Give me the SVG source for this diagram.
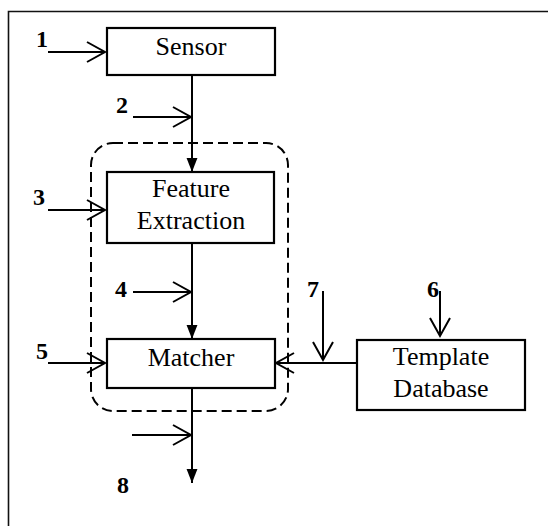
<svg xmlns="http://www.w3.org/2000/svg" width="548" height="526" viewBox="0 0 548 526">
<style>
.box{fill:#fff;stroke:#000;stroke-width:2.2}
.t{font-family:"Liberation Serif","Times New Roman",serif;font-size:26px;fill:#000;text-anchor:middle}
.n{font-family:"Liberation Serif","Times New Roman",serif;font-size:24px;font-weight:bold;fill:#000}
.ln{fill:none;stroke:#000;stroke-width:2}
.dash{fill:none;stroke:#000;stroke-width:2;stroke-dasharray:10 5}
</style>
<defs>
<marker id="fill" markerWidth="14" markerHeight="18" refX="18" refY="7" viewBox="0 0 18 14" orient="auto" markerUnits="userSpaceOnUse">
<path d="M0,0 L18,7 L0,14 Z" fill="#000"/>
</marker>
<marker id="open" markerWidth="22" markerHeight="24" refX="19" refY="11" viewBox="0 0 22 22" orient="auto" markerUnits="userSpaceOnUse">
<path d="M1,1 L19,11 L1,21" fill="none" stroke="#000" stroke-width="2"/>
</marker>
</defs>
<g id="frame">
<path d="M8.5,548 L8.5,11.5 L548,11.5" fill="none" stroke="#111" stroke-width="1.6"/>
</g>
<g id="group-dashed">
<rect class="dash" x="91" y="143" width="197" height="268" rx="22" ry="22"/>
</g>
<g id="connectors">
<line class="ln" x1="192" y1="75" x2="192" y2="172" marker-end="url(#fill)"/>
<line class="ln" x1="192" y1="243" x2="192" y2="339" marker-end="url(#fill)"/>
<line class="ln" x1="192" y1="388" x2="192" y2="483" marker-end="url(#fill)"/>
<line class="ln" x1="357" y1="363" x2="276" y2="363" marker-end="url(#open)"/>
<line class="ln" x1="48" y1="52" x2="105" y2="52" marker-end="url(#open)"/>
<line class="ln" x1="133" y1="117" x2="191" y2="117" marker-end="url(#open)"/>
<line class="ln" x1="48" y1="210" x2="105" y2="210" marker-end="url(#open)"/>
<line class="ln" x1="133" y1="292" x2="191" y2="292" marker-end="url(#open)"/>
<line class="ln" x1="48" y1="363" x2="105" y2="363" marker-end="url(#open)"/>
<line class="ln" x1="132" y1="435" x2="191" y2="435" marker-end="url(#open)"/>
<line class="ln" x1="323" y1="291" x2="323" y2="360" marker-end="url(#open)"/>
<line class="ln" x1="440" y1="291" x2="440" y2="336" marker-end="url(#open)"/>
</g>
<g id="labels">
<text class="n" x="36" y="47">1</text>
<text class="n" x="116" y="113">2</text>
<text class="n" x="33" y="205">3</text>
<text class="n" x="115" y="297">4</text>
<text class="n" x="36" y="359">5</text>
<text class="n" x="427" y="297">6</text>
<text class="n" x="307" y="297">7</text>
<text class="n" x="117" y="493">8</text>
</g>
<g id="sensor">
<rect class="box" x="107" y="28" width="168" height="47"/>
<text class="t" x="191" y="55">Sensor</text>
</g>
<g id="feature-extraction">
<rect class="box" x="107" y="172" width="167" height="71"/>
<text class="t" x="191" y="197">Feature</text>
<text class="t" x="191" y="229">Extraction</text>
</g>
<g id="matcher">
<rect class="box" x="107" y="339" width="168" height="49"/>
<text class="t" x="191" y="366">Matcher</text>
</g>
<g id="template-database">
<rect class="box" x="357" y="340" width="168" height="70"/>
<text class="t" x="441" y="365">Template</text>
<text class="t" x="441" y="397">Database</text>
</g>
</svg>
